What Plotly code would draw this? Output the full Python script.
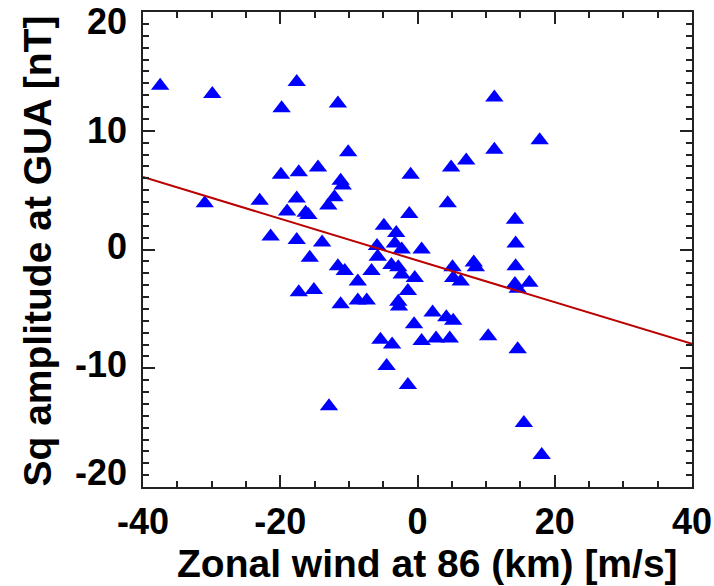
import plotly.graph_objects as go

# Zonal wind at 86 km [m/s]
wind = [-37.5, -29.9, -17.6, -19.8, -11.6, 11.2, -10.1, 17.8, -19.9, -17.3,
        -14.5, -11.2, -10.9, -1.0, 4.9, 7.1, 11.2, -31.0, -23.0, -17.6,
        -19.0, -16.3, -15.9, -13.0, -12.1, 4.4, -1.2, -4.9, -3.1, 14.2,
        -21.4, -17.6, -13.9, -15.7, -5.9, -3.3, -2.3, 0.6, 14.3, -5.8,
        -11.6, -10.6, -8.7, -6.7, -3.8, -2.8, -2.3, -0.4, -1.4, -2.8,
        -2.7, -11.2, -8.7, -7.4, 5.1, 8.2, 8.5, 5.2, 6.3, 14.3,
        14.2, 14.6, 16.3, 2.2, 4.2, 5.2, -0.5, -5.4, -3.7, 0.6,
        2.7, 4.7, 10.3, 14.6, -4.5, -1.4, -12.9, 15.5, 18.1, -17.3,
        -15.1]
# Sq amplitude at GUA [nT]
sq_amp = [13.8, 13.1, 14.1, 11.9, 12.3, 12.8, 8.2, 9.2, 6.3, 6.5,
          6.9, 5.8, 5.4, 6.3, 6.9, 7.5, 8.4, 3.9, 4.1, 4.3,
          3.2, 3.1, 2.9, 3.7, 4.4, 3.9, 3.0, 2.0, 1.4, 2.5,
          1.1, 0.8, 0.6, -0.7, 0.3, 0.5, 0.0, 0.0, 0.5, -0.6,
          -1.4, -1.8, -2.7, -1.8, -1.3, -1.5, -2.1, -2.4, -3.5, -4.4,
          -4.8, -4.6, -4.3, -4.3, -1.5, -1.1, -1.5, -2.4, -2.7, -1.4,
          -2.9, -3.3, -2.8, -5.3, -5.7, -6.0, -6.3, -7.6, -8.0, -7.7,
          -7.5, -7.5, -7.3, -8.4, -9.8, -11.4, -13.2, -14.6, -17.3, -3.6,
          -3.4]

# Linear fit line
fit_x = [-40, 40]
fit_y = [6.1, -7.95]

x_ticks = [-40, -20, 0, 20, 40]
y_ticks = [-20, -10, 0, 10, 20]

font_family = "Liberation Sans, Arial, sans-serif"
tick_font = dict(family=font_family, size=36, color="black", weight="bold")
title_font = dict(family=font_family, size=39, color="black")

fig = go.Figure()
fig.add_trace(go.Scatter(
    x=wind, y=sq_amp, mode="markers",
    marker=dict(symbol="triangle-up", size=16, color="#0000ff",
                line=dict(width=0)),
    showlegend=False, hoverinfo="x+y"))
fig.add_trace(go.Scatter(
    x=fit_x, y=fit_y, mode="lines",
    line=dict(color="#bb0000", width=2),
    showlegend=False))

axis_common = dict(
    showgrid=False, zeroline=False, showline=True, linecolor="#222222",
    linewidth=1.5, mirror="allticks", ticks="inside", ticklen=12,
    tickwidth=1.5, tickcolor="#222222", automargin=False,
)

fig.update_xaxes(
    range=[-40, 40], tickvals=x_ticks, ticktext=[str(v) for v in x_ticks],
    tickfont=tick_font, ticklabeloverflow="allow",
    minor=dict(dtick=5, ticklen=6, tickwidth=1.5, tickcolor="#222222",
               ticks="inside"),
    ticklabelstandoff=2,
    **axis_common)
fig.update_yaxes(
    range=[-20, 20], tickvals=y_ticks, showticklabels=False,
    minor=dict(dtick=1, ticklen=6, tickwidth=1.5, tickcolor="#222222",
               ticks="inside"),
    **axis_common)

# y tick labels (placed like the reference, end labels pulled inward)
label_shift = {20: -9, 10: 0, 0: 3, -10: 4, -20: 15}
for v in y_ticks:
    fig.add_annotation(
        x=0, xref="paper", xanchor="right", xshift=-14,
        y=v, yref="y", yanchor="middle", yshift=label_shift[v],
        text=str(v), showarrow=False, font=tick_font)

# x axis title
fig.add_annotation(
    x=0.5, xref="paper", xanchor="center", xshift=10,
    y=0, yref="paper", yanchor="top", yshift=-53,
    text="<b>Zonal wind at 86 (km) [m/s]</b>",
    showarrow=False, font=title_font)

# y axis title
fig.add_annotation(
    x=0, xref="paper", xshift=-106, xanchor="center",
    y=0.5, yref="paper", yanchor="middle", yshift=-2,
    text="<b>Sq amplitude at GUA [nT]</b>", textangle=-90,
    showarrow=False, font=title_font)

fig.update_layout(
    width=714, height=586,
    margin=dict(l=143, r=22, t=12, b=99, autoexpand=False),
    plot_bgcolor="white", paper_bgcolor="white",
)

fig.write_html("out.html")
